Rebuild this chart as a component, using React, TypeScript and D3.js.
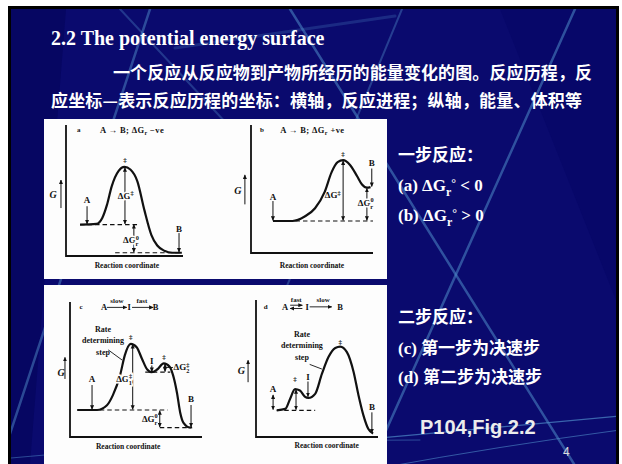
import React from 'react'
import * as d3 from 'd3'

type Pt = [number, number]
type VArrow = [number, number, number, number] // x, G from, G to, double-headed (1/0)
type HArrow = [number, number, number] // x from, x to, G
type Seg = [number, number, number, number] // x1, G1, x2, G2
type Level = [number, number, number] // x from, x to, G
type Label = [number, number, string, string, string?] // x, G, text, kind, anchor

// ---------- slide text ----------
const title = '2.2 The potential energy surface'
const introLines = [
    '一个反应从反应物到产物所经历的能量变化的图。反应历程，反',
    '应坐标—表示反应历程的坐标：横轴，反应进程；纵轴，能量、体积等',
]
const oneStepHead = '一步反应：'
const oneStepItems = ['(a) ΔG_r^° < 0', '(b) ΔG_r^° > 0']
const twoStepHead = '二步反应：'
const twoStepItems = [['(c) ', '第一步为决速步'], ['(d) ', '第二步为决速步']]
const source = 'P104,Fig.2.2'
const pageNo = '4'

// ---------- diagram a: one step, ΔG negative ----------
const curveA: Pt[] = [[1.2, 2.4], [2.6, 2.45], [3.1, 2.9], [3.5, 3.9], [3.9, 5.3], [4.5, 6.5], [5.0, 6.8], [5.5, 6.6], [6.1, 5.7], [6.7, 3.5], [7.3, 1.6], [7.8, 0.8], [8.4, 0.4], [9.1, 0.25], [9.9, 0.25]]
const levelsA: Level[] = [[1.2, 6.1, 2.4], [4.2, 9.75, 0.25]]
const arrowsA: VArrow[] = [[5.04, 6.75, 2.45, 1], [5.8, 2.4, 0.3, 1], [1.8, 3.8, 2.45, 0], [9.66, 1.75, 0.3, 0], [-0.43, 3.66, 5.8, 0]]
const labelsA: Label[] = [
    [1.1, 9.6, 'a', 'sm'], [2.9, 9.6, 'A → B; ΔG_r −ve', 'tt', 'start'],
    [5.04, 7.3, '‡', 'sm'], [5.1, 4.6, 'ΔG^‡', 'lbh'], [1.8, 4.3, 'A', 'lb'],
    [5.55, 1.2, 'ΔG^0_r', 'lbh'], [9.66, 2.05, 'B', 'lb'], [-1.1, 4.7, 'G', 'ax'],
    [5.2, -0.7, 'Reaction coordinate', 'rc'],
]

// ---------- diagram b: one step, ΔG positive ----------
const curveB: Pt[] = [[1.8, 2.5], [3.4, 2.5], [4.4, 2.85], [5.25, 3.5], [6.05, 4.8], [6.6, 6.3], [7.1, 7.1], [7.55, 7.25], [8.1, 6.9], [8.7, 6.0], [9.1, 5.35], [9.5, 5.1], [9.8, 5.15]]
const levelsB: Level[] = [[1.8, 10.0, 2.5]]
const arrowsB: VArrow[] = [[7.55, 7.2, 2.55, 1], [1.8, 4.06, 2.55, 0], [9.9, 6.6, 5.2, 0], [9.5, 5.05, 2.55, 1], [-0.5, 3.8, 6.1, 0]]
const labelsB: Label[] = [
    [0.9, 9.6, 'b', 'sm'], [2.4, 9.6, 'A → B; ΔG_r +ve', 'tt', 'start'],
    [7.55, 7.75, '‡', 'sm'], [7.35, 4.5, 'ΔG^‡', 'lb', 'end'], [1.8, 4.4, 'A', 'lb'],
    [9.9, 7.0, 'B', 'lb'], [9.4, 3.9, 'ΔG^0_r', 'lbh'], [-1.07, 4.9, 'G', 'ax'],
    [5.0, -0.94, 'Reaction coordinate', 'rc'],
]

// ---------- diagram c: two steps, first step rate determining ----------
const curveC: Pt[] = [[0.55, 2.0], [2.05, 2.0], [2.8, 2.35], [3.25, 3.1], [3.8, 4.6], [4.15, 6.05], [4.6, 6.9], [5.05, 6.65], [5.45, 5.8], [5.85, 5.0], [6.2, 4.8], [6.6, 5.0], [7.1, 5.45], [7.55, 5.2], [7.8, 4.6], [8.1, 3.3], [8.35, 1.8], [8.6, 1.05], [9.1, 0.7], [9.25, 0.72]]
const levelsC: Level[] = [[0.55, 7.4, 2.0], [5.7, 7.6, 4.8], [6.8, 8.9, 0.7]]
const arrowsC: VArrow[] = [[4.75, 6.85, 2.05, 1], [7.2, 5.4, 4.85, 1], [1.67, 3.85, 2.05, 0], [6.8, 1.95, 0.75, 1], [9.17, 2.37, 0.75, 0], [6.2, 5.3, 4.85, 0], [-0.38, 4.3, 5.9, 0]]
const hArrowsC: HArrow[] = [[2.8, 4.3, 9.6], [4.7, 6.3, 9.6]]
const segsC: Seg[] = [[2.9, 6.45, 3.95, 5.7], [7.3, 5.15, 7.8, 5.15]]
const labelsC: Label[] = [
    [0.83, 9.6, 'c', 'sm'], [2.6, 9.6, 'A', 'tt'], [4.5, 9.6, 'I', 'tt'], [6.5, 9.6, 'B', 'tt'],
    [3.55, 10.1, 'slow', 'sm'], [5.45, 10.1, 'fast', 'sm'],
    [2.5, 8.0, 'Rate', 'rd'], [2.5, 7.15, 'determining', 'rd'], [2.5, 6.3, 'step', 'rd'],
    [4.6, 7.4, '‡', 'sm'], [7.12, 5.9, '‡', 'sm'], [6.2, 5.65, 'I', 'lb'],
    [7.85, 5.15, 'ΔG^‡_2', 'lb', 'start'], [4.7, 4.3, 'ΔG^‡_1', 'lbh', 'end'],
    [1.67, 4.3, 'A', 'lb'], [6.65, 1.33, 'ΔG^0_r', 'lb', 'end'], [9.17, 2.8, 'B', 'lb'],
    [-0.68, 4.8, 'G', 'ax'], [4.4, -0.67, 'Reaction coordinate', 'rc'],
]

// ---------- diagram d: two steps, second step rate determining ----------
const curveD: Pt[] = [[1.7, 1.95], [2.4, 2.05], [2.8, 2.8], [3.2, 3.5], [3.6, 3.4], [4.0, 2.95], [4.3, 2.85], [4.85, 3.15], [5.4, 4.6], [5.95, 5.85], [6.5, 6.5], [6.9, 6.6], [7.45, 6.2], [8.0, 4.75], [8.4, 3.05], [8.8, 1.6], [9.2, 0.6], [9.6, 0.25]]
const levelsD: Level[] = [[1.7, 4.85, 1.95]]
const arrowsD: VArrow[] = [[1.4, 3.07, 2.0, 1], [3.28, 3.45, 2.0, 1], [4.26, 4.05, 2.95, 0], [9.5, 1.8, 0.3, 0], [-0.65, 4.0, 5.6, 0]]
const hArrowsD: HArrow[] = [[2.8, 3.8, 9.62], [3.8, 2.8, 9.38], [4.4, 6.2, 9.5]]
const segsD: Seg[] = [[4.4, 5.3, 5.4, 4.96]]
const labelsD: Label[] = [
    [0.8, 9.5, 'd', 'sm'], [2.4, 9.5, 'A', 'tt'], [4.2, 9.5, 'I', 'tt'], [6.9, 9.5, 'B', 'tt'],
    [3.3, 9.98, 'fast', 'sm'], [5.5, 9.98, 'slow', 'sm'],
    [3.77, 7.5, 'Rate', 'rd'], [3.77, 6.7, 'determining', 'rd'], [3.77, 5.84, 'step', 'rd'],
    [3.2, 4.2, '‡', 'sm'], [6.9, 6.95, '‡', 'sm'], [4.26, 4.4, 'I', 'lb'],
    [1.4, 3.5, 'A', 'lb'], [9.5, 2.2, 'B', 'lb'], [-1.2, 4.9, 'G', 'ax'],
    [5.8, -0.58, 'Reaction coordinate', 'rc'],
]

const kindSize: Record<string, number> = { sm: 7, tt: 8.5, lb: 9, lbh: 9, ax: 10, rc: 7.5, rd: 8 }

// tiny markup: ^x superscript, _x subscript; stacked scripts sit on top of each other
function rich(s: string, fs: number, stack = true, raise = 0.4) {
    const out: React.ReactNode[] = []
    let buf = ''
    let off = 0
    let prev: string | null = null
    let k = 0
    const flush = () => {
        if (!buf) return
        out.push(<tspan key={k++} dy={-off}>{buf}</tspan>)
        off = 0
        buf = ''
        prev = null
    }
    for (let i = 0; i < s.length; i++) {
        const c = s[i]
        if ((c === '^' || c === '_') && i + 1 < s.length) {
            flush()
            const ch = s[++i]
            const target = c === '^' ? -raise * fs : 0.3 * fs
            const dx = stack && prev && prev !== c ? -0.36 * fs : 0
            out.push(<tspan key={k++} dx={dx || undefined} dy={target - off} fontSize={fs * 0.7}>{ch}</tspan>)
            off = target
            prev = c
        } else {
            buf += c
        }
    }
    flush()
    return out
}

function Diagram(props: {
    box: number[]
    curve: Pt[]
    levels: Level[]
    arrows: VArrow[]
    hArrows?: HArrow[]
    segs?: Seg[]
    labels: Label[]
}) {
    const [x0, x1, y0, y1] = props.box
    const x = d3.scaleLinear().domain([0, 10]).range([x0, x1])
    const y = d3.scaleLinear().domain([0, 10]).range([y1, y0])
    const path = d3.line<Pt>().x(d => x(d[0])).y(d => y(d[1])).curve(d3.curveMonotoneX)

    return (
        <g>
            <path d={`M${x0},${y0}V${y1}H${x1}`} fill="none" stroke="#111" strokeWidth={1.8} />
            {props.levels.map((l, i) => (
                <line key={'l' + i} x1={x(l[0])} x2={x(l[1])} y1={y(l[2])} y2={y(l[2])}
                    stroke="#111" strokeWidth={1.2} strokeDasharray="4.5 3" />
            ))}
            <path d={path(props.curve) || ''} fill="none" stroke="#111" strokeWidth={2.2} />
            {props.arrows.map((a, i) => (
                <line key={'a' + i} x1={x(a[0])} x2={x(a[0])} y1={y(a[1])} y2={y(a[2])}
                    stroke="#111" strokeWidth={1} markerEnd="url(#ah)"
                    markerStart={a[3] ? 'url(#ah)' : undefined} />
            ))}
            {(props.hArrows || []).map((a, i) => (
                <line key={'h' + i} x1={x(a[0])} x2={x(a[1])} y1={y(a[2])} y2={y(a[2])}
                    stroke="#111" strokeWidth={0.9} markerEnd="url(#ah)" />
            ))}
            {(props.segs || []).map((s, i) => (
                <line key={'s' + i} x1={x(s[0])} y1={y(s[1])} x2={x(s[2])} y2={y(s[3])}
                    stroke="#111" strokeWidth={0.9} />
            ))}
            {props.labels.map((l, i) => {
                const fs = kindSize[l[3]]
                return (
                    <text key={'t' + i} x={x(l[0])} y={y(l[1])} fontSize={fs}
                        textAnchor={l[4] || 'middle'} dominantBaseline="central"
                        fontStyle={l[3] === 'ax' ? 'italic' : 'normal'}
                        letterSpacing={l[3] === 'tt' ? 0.4 : undefined}
                        stroke={l[3] === 'lbh' ? '#fdfdfd' : 'none'} strokeWidth={3}
                        paintOrder="stroke" fill="#111">
                        {rich(l[2], fs)}
                    </text>
                )
            })}
        </g>
    )
}

export default function App() {
    const cjk = '"Noto Sans CJK SC", sans-serif'
    const serif = '"Liberation Serif", "Times New Roman", serif'
    return (
        <svg width={622} height={464} style={{ position: 'absolute', left: 0, top: 0 }}>
            <defs>
                <marker id="ah" viewBox="0 0 10 10" refX={9} refY={5} markerWidth={4.5} markerHeight={4.5}
                    markerUnits="userSpaceOnUse" orient="auto-start-reverse">
                    <path d="M0,0.5L10,5L0,9.5z" fill="#111" />
                </marker>
                <linearGradient id="grn" x1="0" x2="1" y1="0" y2="0">
                    <stop offset="0" stopColor="#4f7f3a" />
                    <stop offset="0.6" stopColor="#86c24a" />
                    <stop offset="1" stopColor="#2f5f7a" />
                </linearGradient>
                <clipPath id="slide">
                    <rect x={11} y={9} width={605} height={456} />
                </clipPath>
            </defs>

            <rect x={0} y={0} width={622} height={464} fill="#fff" />
            <rect x={9.5} y={7.5} width={608} height={460} fill="#0a0a6e" stroke="#000" strokeWidth={3} />

            <g clipPath="url(#slide)">
                <polygon points="11,9 66,9 30,464 11,464" fill="#04045c" opacity={0.7} />
                <polygon points="500,9 616,9 616,300" fill="#050566" opacity={0.6} />
                <g stroke="#4f8cc8" fill="none" strokeLinecap="round">
                    <line x1={290} y1={9} x2={574} y2={464} strokeWidth={2.5} opacity={0.55} />
                    <line x1={575} y1={9} x2={371} y2={464} strokeWidth={2.5} opacity={0.55} />
                    <line x1={402} y1={9} x2={213} y2={464} strokeWidth={2} opacity={0.4} />
                    <line x1={150} y1={9} x2={0} y2={464} strokeWidth={2.5} opacity={0.5} />
                    <line x1={120} y1={9} x2={228} y2={125} strokeWidth={2} opacity={0.35} />
                    <line x1={175} y1={48} x2={395} y2={16} strokeWidth={3} opacity={0.25} />
                    <path d="M11,470 Q300,446 620,416" strokeWidth={1.2} opacity={0.7} />
                    <path d="M380,468 Q500,446 620,430" strokeWidth={1} opacity={0.6} />
                    <path d="M11,458 Q200,440 420,440" strokeWidth={1} opacity={0.5} />
                </g>
                <line x1={11} x2={616} y1={427.5} y2={427.5} stroke="url(#grn)" strokeWidth={2.5} />
            </g>

            <text x={51} y={45} fill="#fff" fontFamily={serif} fontWeight="bold" fontSize={20}>{title}</text>
            <text x={113} y={79} fill="#fff" fontFamily={cjk} fontWeight="bold" fontSize={17}
                textLength={479} lengthAdjust="spacing">{introLines[0]}</text>
            <text x={51} y={107} fill="#fff" fontFamily={cjk} fontWeight="bold" fontSize={17}
                textLength={531} lengthAdjust="spacing">{introLines[1]}</text>

            <rect x={44} y={119} width={343} height={160} fill="#fdfdfd" />
            <rect x={44} y={285} width={343} height={180} fill="#fdfdfd" />

            <g fontFamily={serif} fontWeight="bold">
                <Diagram box={[66, 183, 125, 256]} curve={curveA} levels={levelsA} arrows={arrowsA} labels={labelsA} />
                <Diagram box={[251, 373, 125, 253]} curve={curveB} levels={levelsB} arrows={arrowsB} labels={labelsB} />
                <Diagram box={[70, 202, 302, 437]} curve={curveC} levels={levelsC} arrows={arrowsC}
                    hArrows={hArrowsC} segs={segsC} labels={labelsC} />
                <Diagram box={[256, 378, 300, 437]} curve={curveD} levels={levelsD} arrows={arrowsD}
                    hArrows={hArrowsD} segs={segsD} labels={labelsD} />
            </g>

            <g fill="#fff" fontWeight="bold" fontSize={17}>
                <text x={398} y={161} fontFamily={cjk}>{oneStepHead}</text>
                {oneStepItems.map((s, i) => (
                    <text key={s} x={398} y={191 + i * 30} fontFamily={serif}>{rich(s, 17, false, 0.22)}</text>
                ))}
                <text x={398} y={323} fontFamily={cjk}>{twoStepHead}</text>
                {twoStepItems.map((s, i) => (
                    <text key={s[0]} x={398} y={354 + i * 29} fontFamily={serif}>
                        <tspan>{s[0]}</tspan>
                        <tspan fontFamily={cjk}>{s[1]}</tspan>
                    </text>
                ))}
            </g>
            <text x={420} y={434} fill="#ececec" fontFamily='"Liberation Sans", Arial, sans-serif'
                fontWeight="bold" fontSize={20}>{source}</text>
            <text x={563} y={456} fill="#dddddd" fontFamily='"Liberation Sans", Arial, sans-serif'
                fontSize={12}>{pageNo}</text>
        </svg>
    )
}
